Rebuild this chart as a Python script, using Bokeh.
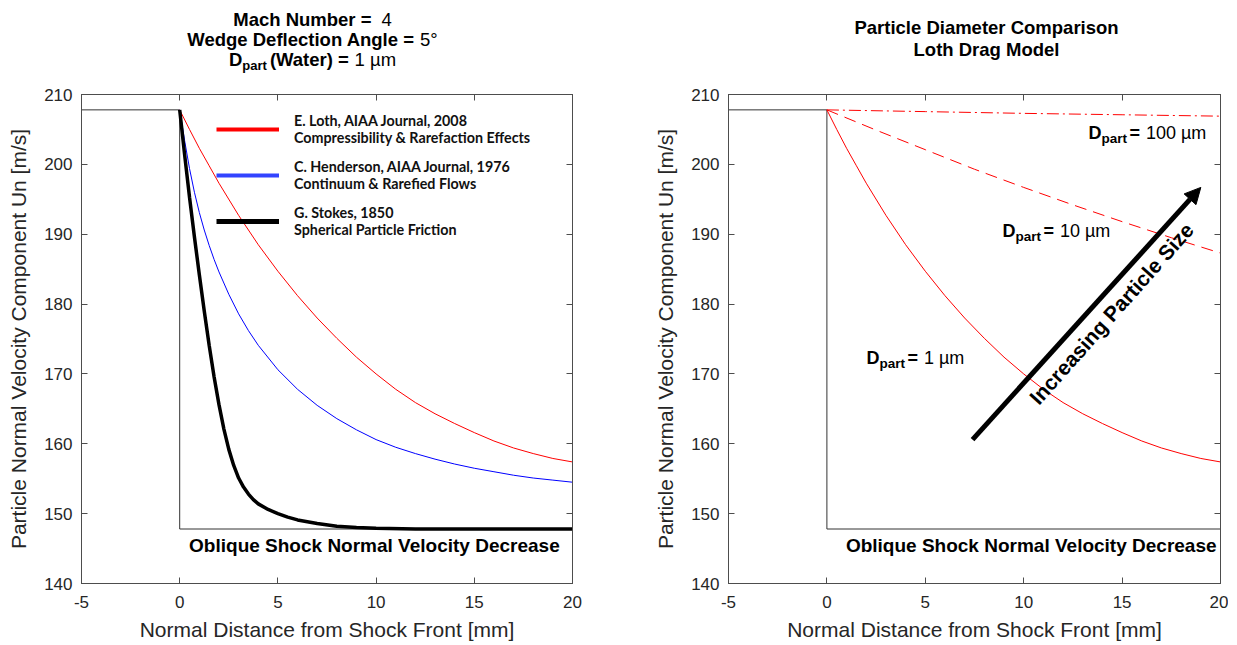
from bokeh.plotting import figure
from bokeh.models import (Range1d, LinearAxis, FixedTicker, Label, Arrow, NormalHead,
                          Legend, LegendItem)
from bokeh.layouts import row, column
from bokeh.embed import file_html
from bokeh.resources import INLINE

# ---------------- data ----------------
x_ticks = [-5, 0, 5, 10, 15, 20]
y_ticks = [140, 150, 160, 170, 180, 190, 200, 210]

# upstream normal velocity, shock at x = 0, downstream gas normal velocity
step_x = [-5, 0, 0, 20]
step_u = [207.8, 207.8, 147.8, 147.8]

# Loth drag model, D = 1 um
loth_x = [0, 0.5, 1, 1.5, 2, 3, 4, 5, 6, 7, 8, 9, 10, 11, 12, 13, 14, 15, 16, 17, 18, 19, 20]
loth_u = [207.8, 205.0, 202.3, 199.8, 197.3, 192.7, 188.5, 184.7, 181.2, 178.0, 175.1, 172.4,
          170.0, 167.8, 165.9, 164.3, 162.9, 161.6, 160.4, 159.4, 158.6, 157.9, 157.4]

# Henderson drag model
henderson_x = [0, 0.25, 0.5, 0.75, 1, 1.25, 1.5, 1.75, 2, 2.5, 3, 3.5, 4, 5, 6, 7, 8, 9, 10,
               11, 12, 13, 14, 15, 16, 17, 18, 19, 20]
henderson_u = [207.8, 203.4, 199.4, 196.0, 193.1, 190.6, 188.4, 186.4, 184.6, 181.4, 178.6,
               176.2, 174.1, 170.6, 167.8, 165.5, 163.6, 162.0, 160.6, 159.5, 158.6, 157.8,
               157.1, 156.5, 156.0, 155.5, 155.1, 154.8, 154.5]

# Stokes drag
stokes_x = [0, 0.25, 0.5, 0.75, 1, 1.25, 1.5, 1.75, 2, 2.25, 2.5, 2.75, 3, 3.25, 3.5, 3.75,
            4, 4.5, 5, 5.5, 6, 7, 8, 9, 10, 12, 20]
stokes_u = [207.8, 201.4, 195.3, 189.6, 184.2, 179.0, 174.1, 169.6, 165.6, 162.1, 159.2,
            156.9, 155.1, 153.8, 152.8, 152.0, 151.4, 150.6, 150.0, 149.5, 149.1, 148.6,
            148.2, 148.0, 147.9, 147.8, 147.8]

# Loth drag model, D = 10 um and D = 100 um
d10_x = [0, 2.5, 5, 7.5, 10, 12.5, 15, 17.5, 20]
d10_u = [207.8, 204.9, 202.1, 199.3, 196.7, 194.2, 191.8, 189.5, 187.3]
d100_x = [0, 5, 10, 15, 20]
d100_u = [207.8, 207.55, 207.3, 207.1, 206.9]

legend_labels = ["E. Loth, AIAA Journal, 2008\nCompressibility & Rarefaction Effects",
                 "C. Henderson, AIAA Journal, 1976\nContinuum & Rarefied Flows",
                 "G. Stokes, 1850\nSpherical Particle Friction"]

arrow_start = (7.4, 160.6)
arrow_end = (19.0, 196.7)

# ---------------- helpers ----------------
FONT = "Liberation Sans"
TXT = "#262626"
AX = "#4d4d4d"
AR = {" ": 278, "(": 333, ")": 333, "=": 584, "µ": 576, "m": 833, "°": 400, "D": 722,
      "p": 556, "a": 556, "r": 333, "t": 278, "W": 944, "e": 556}
AB = {" ": 278, "(": 333, ")": 333, "=": 584, "D": 722, "p": 611, "a": 556, "r": 389,
      "t": 333, "W": 944, "e": 556, "M": 833, "c": 556, "h": 611, "N": 722, "u": 611,
      "b": 611, "m": 889, "g": 611, "d": 611, "f": 333, "l": 278, "i": 278, "o": 611,
      "n": 611, "A": 722, "P": 667, "C": 722, "s": 556, "L": 611, "G": 778}


def text_w(s, size, bold):
    t = AB if bold else AR
    return sum(t.get(c, 556) for c in s) * size / 1000.0


def rich(p, parts, x, y, center=False):
    """parts: (text, size, bold, y_offset, gap_before)"""
    widths = [text_w(t, sz, b) + g for t, sz, b, dy, g in parts]
    off = -sum(widths) / 2 if center else 0
    for (t, sz, b, dy, g), w in zip(parts, widths):
        off += g
        p.add_layout(Label(x=x, y=y, x_offset=off, y_offset=dy,
                           text=t, text_font=FONT, text_font_size=f"{sz}px",
                           text_font_style="bold" if b else "normal",
                           text_baseline="middle", text_align="left", text_color="black"))
        off += w - g


HEAD_H = 80
W1, W2 = 612, 616
FIG_H = 645 - HEAD_H

# ---------------- header (titles) ----------------
head = figure(width=W1 + W2, height=HEAD_H, x_range=Range1d(0, W1 + W2),
              y_range=Range1d(HEAD_H, 0), x_axis_type=None, y_axis_type=None,
              min_border_left=0, min_border_right=0, min_border_top=0, min_border_bottom=0,
              output_backend="svg", toolbar_location=None)
head.grid.visible = False
head.outline_line_color = None
rich(head, [("Mach Number =", 18.5, True, 0, 0), ("4", 18.5, False, 0, 10)], 312, 19, center=True)
rich(head, [("Wedge Deflection Angle =", 18.5, True, 0, 0), ("5°", 18.5, False, 0, 5)],
     312, 39, center=True)
rich(head, [("D", 18.5, True, 0, 0), ("part", 13, True, -6, 0), ("(Water) =", 18.5, True, 0, 3),
            ("1 µm", 18.5, False, 0, 5)], 312, 59, center=True)
rich(head, [("Particle Diameter Comparison", 18.5, True, 0, 0)], 986, 27, center=True)
rich(head, [("Loth Drag Model", 18.5, True, 0, 0)], 986, 49, center=True)


def make_fig(w, b_left, b_right):
    p = figure(width=w, height=FIG_H,
               min_border_left=b_left, min_border_right=b_right,
               min_border_top=14, min_border_bottom=62,
               x_range=Range1d(-5, 20), y_range=Range1d(140, 210),
               output_backend="svg", toolbar_location=None)
    p.grid.visible = False
    p.outline_line_color = AX
    for ax, ticks in ((p.xaxis[0], x_ticks), (p.yaxis[0], y_ticks)):
        ax.ticker = FixedTicker(ticks=ticks)
        ax.major_tick_in = 6
        ax.major_tick_out = 0
        ax.minor_tick_line_color = None
        ax.axis_line_color = AX
        ax.major_tick_line_color = AX
        ax.major_label_text_font = FONT
        ax.major_label_text_font_size = "17px"
        ax.major_label_text_color = TXT
        ax.axis_label_text_font = FONT
        ax.axis_label_text_font_size = "21px"
        ax.axis_label_text_font_style = "normal"
        ax.axis_label_text_color = TXT
    p.xaxis.major_label_overrides = {-5: "-5"}
    p.xaxis.major_label_standoff = 12
    p.yaxis.major_label_standoff = 9
    p.xaxis.axis_label = "Normal Distance from Shock Front [mm]"
    p.xaxis.axis_label_standoff = 7
    p.yaxis.axis_label = "Particle Normal Velocity Component Un [m/s]"
    p.yaxis.axis_label_standoff = 11
    # box ticks on the top and right edges (no labels)
    for loc, ticks in (("above", x_ticks), ("right", y_ticks)):
        ax = LinearAxis(ticker=FixedTicker(ticks=ticks),
                        major_label_overrides={t: "" for t in ticks},
                        major_tick_in=6, major_tick_out=0, minor_tick_line_color=None,
                        axis_line_color=AX, major_tick_line_color=AX, major_tick_line_width=1,
                        major_label_standoff=0, major_label_text_font_size="1px")
        p.add_layout(ax, loc)
    return p


def oblique(p, x):
    p.add_layout(Label(x=x, y=145.44, text="Oblique Shock Normal Velocity Decrease",
                       text_font=FONT, text_font_size="19px", text_font_style="bold",
                       text_align="right", text_baseline="middle", text_color="black"))


# ---------------- left figure ----------------
p1 = make_fig(W1, 81, 40)
p1.line(step_x, step_u, line_color="#333333", line_width=1)
p1.line(loth_x, loth_u, line_color="#ff0000", line_width=1)
p1.line(henderson_x, henderson_u, line_color="#0000ff", line_width=1)
p1.line(stokes_x, stokes_u, line_color="black", line_width=3.5)

nan = float("nan")
lg_r = p1.line([nan], [nan], line_color="#ff0000", line_width=4)
lg_b = p1.line([nan], [nan], line_color="#3344ff", line_width=4)
lg_k = p1.line([nan], [nan], line_color="black", line_width=5)
legend = Legend(items=[LegendItem(label=legend_labels[0], renderers=[lg_r]),
                       LegendItem(label=legend_labels[1], renderers=[lg_b]),
                       LegendItem(label=legend_labels[2], renderers=[lg_k])],
                location=(135, 345), padding=0, margin=0, spacing=12,
                glyph_width=63, glyph_height=20, label_standoff=15,
                label_text_font="Lato", label_text_font_style="bold",
                label_text_font_size="14.3px", label_text_line_height=1.27,
                label_text_color="#111111",
                border_line_color=None, background_fill_alpha=0)
p1.add_layout(legend)
oblique(p1, 19.35)

# ---------------- right figure ----------------
p2 = make_fig(W2, 116, 8)
p2.line(step_x, step_u, line_color="#333333", line_width=1)
p2.line(loth_x, loth_u, line_color="#ff0000", line_width=1)
p2.line(d10_x, d10_u, line_color="#ff0000", line_width=1, line_dash="12 7")
p2.line(d100_x, d100_u, line_color="#ff0000", line_width=1, line_dash="12 4 2 4")

p2.add_layout(Arrow(end=NormalHead(size=16, fill_color="black", line_color="black"),
                    x_start=arrow_start[0], y_start=arrow_start[1],
                    x_end=arrow_end[0], y_end=arrow_end[1],
                    line_color="black", line_width=5))
p2.add_layout(Label(x=14.46, y=178.65, text="Increasing Particle Size", angle=0.843,
                    text_font=FONT, text_font_size="21px", text_font_style="bold",
                    text_align="center", text_baseline="middle", text_color="black"))
oblique(p2, 19.8)

for lx, ly, val in ((13.29, 204.56, "100 µm"), (8.92, 190.53, "10 µm"), (2.01, 172.35, "1 µm")):
    rich(p2, [("D", 18, True, 0, 0), ("part", 13.5, True, -6, 0), ("=", 18, True, 0, 2.5),
              (val, 18, False, 0, 6)], lx, ly)

layout = column(head, row(p1, p2))
open("out.html", "w").write(file_html(layout, INLINE))
